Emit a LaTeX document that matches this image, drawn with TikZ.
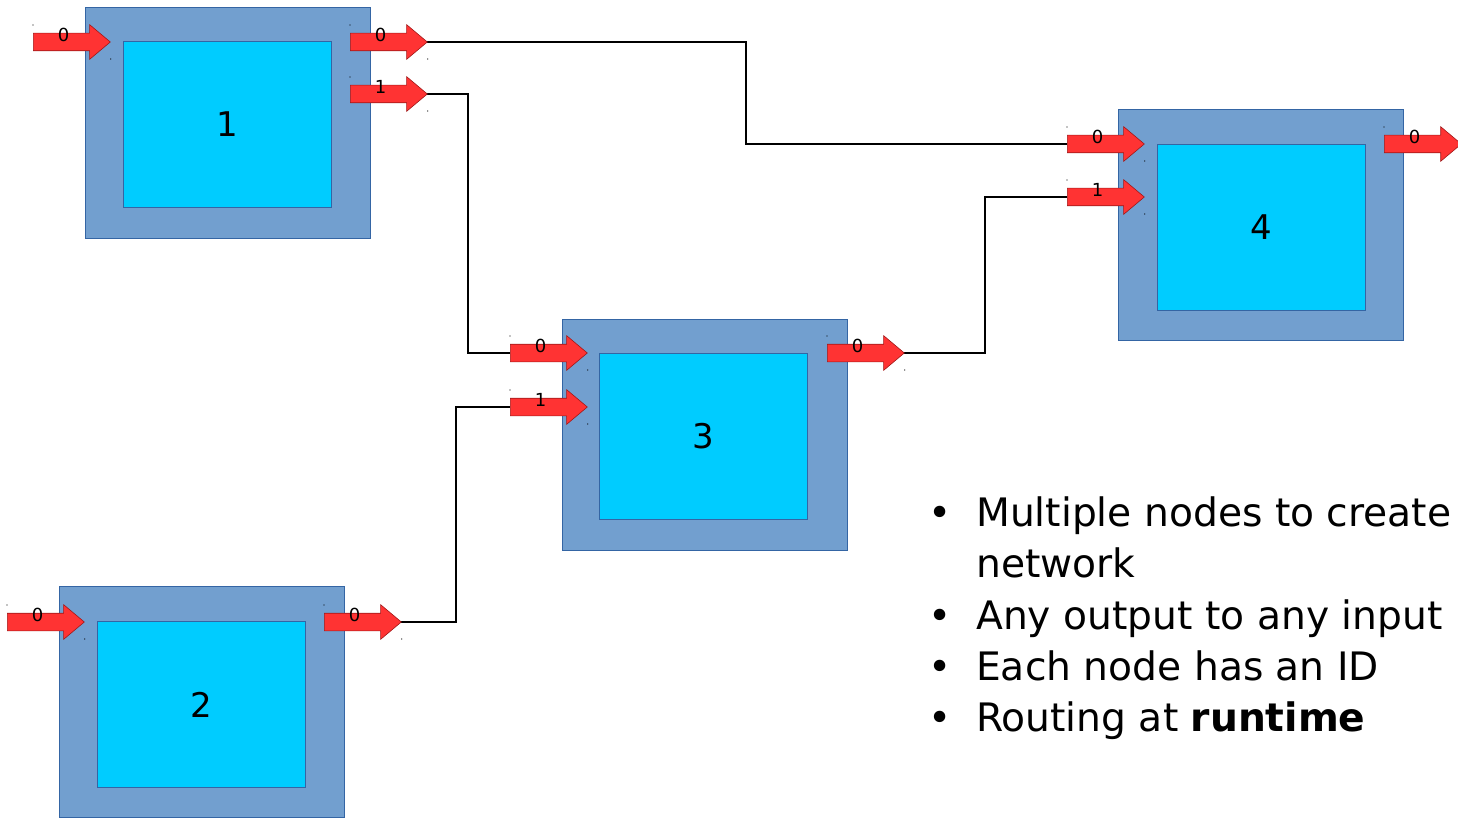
\documentclass[tikz,border=0pt]{standalone}
\usepackage{fontspec}
\setmainfont{DejaVu Sans}
\usetikzlibrary{shapes.arrows}
\definecolor{outerfill}{HTML}{729FCF}
\definecolor{boxedge}{HTML}{3465A4}
\definecolor{innerfill}{HTML}{00CCFF}
\definecolor{arrowfill}{HTML}{FF3333}
\definecolor{arrowedge}{HTML}{A01818}
\tikzset{
  outerbox/.style={draw=boxedge, fill=outerfill, line width=1pt, anchor=north west,
    inner sep=0pt, minimum width=285pt, minimum height=231pt},
  innerbox/.style={draw=boxedge, fill=innerfill, line width=1pt, anchor=north west,
    inner sep=0pt, minimum width=208pt, minimum height=166pt,
    font=\fontsize{34}{40}\selectfont},
  port/.style={single arrow, draw=arrowedge, fill=arrowfill, line width=0.6pt,
    anchor=tail, inner xsep=0pt, inner ysep=8.5pt, text height=0pt, text depth=0pt,
    minimum height=77pt, minimum width=0pt, single arrow head extend=8.5pt,
    single arrow tip angle=80},
  portlabel/.style={font=\fontsize{18}{20}\selectfont, inner sep=0pt},
  wire/.style={draw=black, line width=2pt},
  bullettext/.style={anchor=base west, inner sep=0pt, font=\fontsize{39.2}{51.5}\selectfont},
  bulletmark/.style={anchor=base, inner sep=0pt, font=\fontsize{39.2}{51.5}\selectfont},
  cornerdot/.style={fill=black}
}
\newcommand{\mkport}[4]{%
  \node[port] (#1) at (#2,#3) {};
  \node[portlabel] (#1-l) at ([xshift=-3pt,yshift=7pt]#1.center) {#4};
  \fill[cornerdot] ([yshift=17pt]#1.tail) circle (0.7pt);
  \fill[cornerdot] ([yshift=-17pt]#1.tip) circle (0.7pt);
}
\begin{document}
\begin{tikzpicture}[x=1pt,y=-1pt]
\useasboundingbox (0,0) rectangle (1458,818);
% block 1
\node[outerbox] (b1) at (85,7) {};
\node[innerbox] (c1) at (123,41) {1};
% block 2
\node[outerbox] (b2) at (59,586) {};
\node[innerbox] (c2) at (97,621) {2};
% block 3
\node[outerbox] (b3) at (562,319) {};
\node[innerbox] (c3) at (599,353) {3};
% block 4
\node[outerbox] (b4) at (1118,109) {};
\node[innerbox] (c4) at (1157,144) {4};
% wires (drawn before ports so arrows lie on top)
\coordinate (w1) at (426,42);
\coordinate (w2) at (426,94);
\coordinate (w3) at (400,622);
\coordinate (w4) at (903,353);
\coordinate (e1) at (1067,144);
\coordinate (e2) at (510,353);
\coordinate (e3) at (510,407);
\coordinate (e4) at (1067,197);
\draw[wire] (w1) -- ++(320,0) |- (e1);
\draw[wire] (w2) -- ++(42,0) |- (e2);
\draw[wire] (w3) -- ++(56,0) |- (e3);
\draw[wire] (w4) -- ++(82,0) |- (e4);
% ports
\mkport{i1a}{33}{42}{0}
\mkport{o1a}{350}{42}{0}
\mkport{o1b}{350}{94}{1}
\mkport{i2a}{7}{622}{0}
\mkport{o2a}{324}{622}{0}
\mkport{i3a}{510}{353}{0}
\mkport{i3b}{510}{407}{1}
\mkport{o3a}{827}{353}{0}
\mkport{i4a}{1067}{144}{0}
\mkport{i4b}{1067}{197}{1}
\mkport{o4a}{1384}{144}{0}
% bullet list
\node[bulletmark] (m1) at (940,526) {•};
\node[bullettext] (t1) at (976,526) {Multiple nodes to create};
\node[bullettext] (t1b) at (976,577.5) {network};
\node[bulletmark] (m2) at (940,629) {•};
\node[bullettext] (t2) at (976,629) {Any output to any input};
\node[bulletmark] (m3) at (940,680.5) {•};
\node[bullettext] (t3) at (976,680.5) {Each node has an ID};
\node[bulletmark] (m4) at (940,731) {•};
\node[bullettext] (t4) at (976,731) {Routing at \textbf{runtime}};
\end{tikzpicture}
\end{document}
